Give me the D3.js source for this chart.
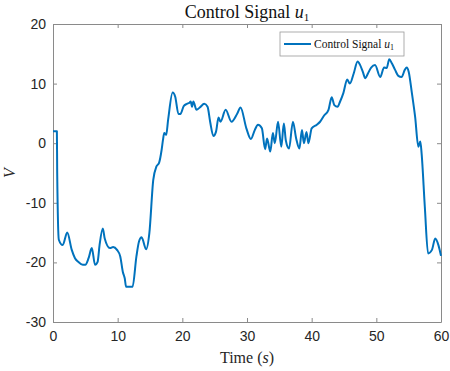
<!DOCTYPE html>
<html>
<head>
<meta charset="utf-8">
<script src="https://cdn.jsdelivr.net/npm/d3@7"></script>
<style>
  body { margin: 0; background: #fff; }
  svg { display: block; }
</style>
</head>
<body>
<div id="chart"></div>
<script>
// values
let time = [0, 0.6, 0.65, 0.9, 1.5, 2.2, 2.9, 3.4, 3.9, 4.6, 5.0, 5.5, 6.0, 6.5, 6.9, 7.2, 7.7, 8.0, 8.8, 9.3, 9.9,
  10.4, 10.8, 11.1, 11.3, 12.3, 12.9, 13.3, 13.7, 14.4, 14.9, 15.5, 16.0, 16.4, 16.8, 17.0, 17.2, 17.5, 17.8, 18.5,
  18.9, 19.4, 19.7, 20.2, 20.7, 21.1, 21.3, 21.5, 21.7, 22.2, 22.7, 23.4, 23.9, 24.3, 24.8, 25.2, 25.6, 25.9, 26.7,
  27.6, 28.5, 29.0, 29.9, 30.6, 31.2, 31.7, 32.3, 32.8, 33.1, 33.6, 34.0, 34.3, 34.8, 35.3, 35.7, 36.0, 36.5, 37.1,
  37.6, 38.1, 38.5, 38.8, 39.2, 39.5, 40.0, 40.8, 41.3, 41.9, 42.6, 43.1, 43.5, 44.0, 44.4, 44.9, 45.5, 45.9, 46.5,
  47.1, 47.5, 47.9, 48.3, 48.7, 49.2, 49.8, 50.6, 51.2, 51.6, 52.0, 52.4, 52.9, 53.4, 53.9, 54.4, 54.7, 55.0, 55.5,
  56.0, 56.5, 56.8, 57.0, 57.5, 58.0, 58.6, 59.1, 59.6, 60];
let signal = [2, 2, -5, -16.2, -17.1, -15.0, -17.9, -19.3, -19.9, -20.4, -20.4, -19.3, -17.6, -20.4, -19.9, -17.1, -14.3, -16.0, -17.6, -17.4, -17.9,
  -19.0, -21.6, -22.7, -24.1, -24.1, -19.0, -16.5, -15.8, -17.8, -15.1, -6.2, -3.9, -3.3, -1.1, 0.5, 1.7, 1.4, 3.9, 8.5,
  7.8, 4.9, 4.9, 6.2, 6.6, 6.8, 7.0, 6.1, 7.0, 5.6, 6.0, 6.6, 6.1, 3.6, 1.2, 1.9, 4.3, 3.6, 5.6,
  3.6, 5.0, 6.0, 2.5, 0.7, 2.2, 3.1, 2.5, -1.0, 0.8, -1.4, 1.7, 0.0, 3.6, -0.6, 3.3, 0.5, -0.9, 3.6,
  0.8, -0.9, 2.2, 0.0, 1.9, 0.0, 2.5, 3.1, 3.6, 4.6, 5.6, 7.7, 6.4, 6.1, 7.0, 8.4, 10.7, 10.0, 11.7,
  13.7, 13.1, 12.0, 10.9, 11.7, 12.7, 13.1, 11.1, 12.7, 12.6, 14.1, 13.4, 12.3, 11.3, 11.1, 12.3, 12.7, 12.0, 8.4,
  4.4, -0.6, 0.3, -1.7, -10.7, -18.5, -17.9, -16.0, -17.1, -18.9];
let xTicks = [0, 10, 20, 30, 40, 50, 60];
let yTicks = [-30, -20, -10, 0, 10, 20];

const width = 450, height = 371;
const margin = { left: 53, right: 9, top: 24, bottom: 49 };
const axisColor = "#8a8a8a";
const lineColor = "#0072BD";

let svg = d3.select("#chart")
  .append("svg")
  .attr("width", width)
  .attr("height", height);

let x = d3.scaleLinear()
  .domain([0, 60])
  .range([margin.left, width - margin.right]);

let y = d3.scaleLinear()
  .domain([-30, 20])
  .range([height - margin.bottom, margin.top]);

// axes, ticks point inward like matlab; plain hyphen for negatives
let fmt = d => String(d);
svg.append("g")
  .attr("transform", `translate(0,${height - margin.bottom})`)
  .call(d3.axisBottom(x).tickValues(xTicks).tickFormat(fmt).tickSizeInner(-4).tickSizeOuter(0).tickPadding(9));
svg.append("g")
  .attr("transform", `translate(0,${margin.top})`)
  .call(d3.axisTop(x).tickValues(xTicks).tickSizeInner(-4).tickSizeOuter(0).tickFormat(""));
svg.append("g")
  .attr("transform", `translate(${margin.left},0)`)
  .call(d3.axisLeft(y).tickValues(yTicks).tickFormat(fmt).tickSizeInner(-4).tickSizeOuter(0).tickPadding(7));
svg.append("g")
  .attr("transform", `translate(${width - margin.right},0)`)
  .call(d3.axisRight(y).tickValues(yTicks).tickSizeInner(-4).tickSizeOuter(0).tickFormat(""));

svg.selectAll(".domain, .tick line").attr("stroke", axisColor);
svg.selectAll(".tick text")
  .attr("fill", "#262626")
  .style("font-family", "'Liberation Sans', Arial, sans-serif")
  .style("font-size", "14px");

// the signal
let data = time.map((t, i) => ({ t: t, v: signal[i] }));
svg.append("path")
  .datum(data)
  .attr("fill", "none")
  .attr("stroke", lineColor)
  .attr("stroke-width", 2)
  .attr("stroke-linejoin", "round")
  .attr("d", d3.line().curve(d3.curveMonotoneX).x(d => x(d.t)).y(d => y(d.v)));

// title
let title = svg.append("text")
  .attr("x", 247)
  .attr("y", 18)
  .attr("text-anchor", "middle")
  .style("font-family", "'Liberation Serif', 'Times New Roman', serif")
  .style("font-size", "18px")
  .attr("fill", "#111");
title.append("tspan").text("Control Signal ");
title.append("tspan").attr("font-style", "italic").text("u");
title.append("tspan").attr("font-size", "11px").attr("dy", 3).text("1");

// axis labels
let xl = svg.append("text")
  .attr("x", 247)
  .attr("y", 363)
  .attr("text-anchor", "middle")
  .style("font-family", "'Liberation Serif', 'Times New Roman', serif")
  .style("font-size", "16px")
  .attr("fill", "#262626");
xl.append("tspan").text("Time (");
xl.append("tspan").attr("font-style", "italic").text("s");
xl.append("tspan").text(")");

svg.append("text")
  .attr("transform", "translate(15,173) rotate(-90)")
  .attr("text-anchor", "middle")
  .style("font-family", "'Liberation Serif', 'Times New Roman', serif")
  .style("font-size", "16px")
  .style("font-style", "italic")
  .attr("fill", "#262626")
  .text("V");

// legend
let legend = svg.append("g").attr("transform", "translate(280,32)");
legend.append("rect")
  .attr("width", 124)
  .attr("height", 24)
  .attr("fill", "#fff")
  .attr("stroke", "#9a9a9a")
  .attr("stroke-width", 0.8);
legend.append("line")
  .attr("x1", 4).attr("x2", 31)
  .attr("y1", 12).attr("y2", 12)
  .attr("stroke", lineColor)
  .attr("stroke-width", 2);
let lt = legend.append("text")
  .attr("x", 34)
  .attr("y", 16)
  .style("font-family", "'Liberation Serif', 'Times New Roman', serif")
  .style("font-size", "11.5px")
  .attr("fill", "#111");
lt.append("tspan").text("Control Signal ");
lt.append("tspan").attr("font-style", "italic").text("u");
lt.append("tspan").attr("font-size", "8px").attr("dy", 2).text("1");
</script>
</body>
</html>
